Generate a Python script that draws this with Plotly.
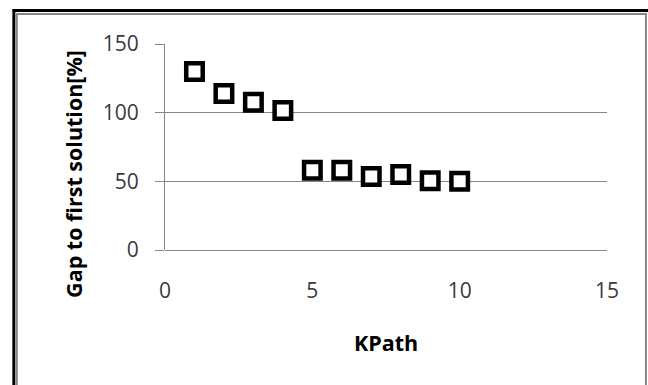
import plotly.graph_objects as go

# ---- data ----
kpath = [1, 2, 3, 4, 5, 6, 7, 8, 9, 10]
gap_pct = [130, 114, 107.5, 101.5, 58, 58, 53.5, 55, 50.5, 50]
x_ticks = [0, 5, 10, 15]
y_ticks = [0, 50, 100, 150]
x_title = "KPath"
y_title = "Gap to first solution[%]"

W, H = 648, 385
L, R, T, B = 164.5, 607.5, 43.5, 250.0


def px(x):
    return (x - L) / (R - L)


def py(y):
    return (B - y) / (B - T)


fig = go.Figure()
fig.add_trace(go.Scatter(
    x=kpath, y=gap_pct, mode="markers",
    marker=dict(symbol="square", size=16.5, color="white",
                line=dict(color="black", width=4.5)),
    showlegend=False, cliponaxis=False,
))

GRID = "#868686"
FAM = "Open Sans, Lato, sans-serif"
TICKFONT = dict(family=FAM, size=21, color="#3a3a3a")

fig.update_xaxes(
    range=[0, 15], tickvals=x_ticks, showgrid=False, zeroline=False,
    showline=False, ticks="outside", ticklen=22, tickcolor="rgba(0,0,0,0)",
    tickfont=TICKFONT, fixedrange=True,
)
fig.update_yaxes(
    range=[0, 150], tickvals=y_ticks, showgrid=True, gridcolor=GRID,
    gridwidth=1, zeroline=True, zerolinecolor=GRID, zerolinewidth=1,
    showline=True, linecolor=GRID, linewidth=1,
    ticks="outside", ticklen=9, tickcolor=GRID, tickfont=TICKFONT,
    ticklabelstandoff=12, fixedrange=True,
)

shapes = [
    # gray inner frame
    dict(type="rect", xref="paper", yref="paper",
         x0=px(16), x1=px(646.5), y0=py(395), y1=py(13.5),
         line=dict(color=GRID, width=2), fillcolor="rgba(0,0,0,0)", layer="below"),
    # black outer top line
    dict(type="line", xref="paper", yref="paper",
         x0=px(12), x1=px(660), y0=py(10), y1=py(10),
         line=dict(color="black", width=3)),
    # black outer left line
    dict(type="line", xref="paper", yref="paper",
         x0=px(13), x1=px(13), y0=py(8.5), y1=py(400),
         line=dict(color="black", width=3)),
]

TITLEFONT = dict(family=FAM, size=21.5, color="black")
annotations = [
    dict(text=f"<b>{x_title}</b>", xref="paper", yref="paper",
         x=px(386.5), y=py(343), xanchor="center", yanchor="middle",
         showarrow=False, font=TITLEFONT),
    dict(text=f"<b>{y_title}</b>", xref="paper", yref="paper",
         x=px(72), y=py(174), xanchor="center", yanchor="middle",
         showarrow=False, textangle=-90, font=TITLEFONT),
]

fig.update_layout(
    width=W, height=H, autosize=False,
    margin=dict(l=L, r=W - R, t=T, b=H - B, pad=0),
    paper_bgcolor="white", plot_bgcolor="white",
    shapes=shapes, annotations=annotations,
)

fig.write_html("out.html", config={"displayModeBar": False})
